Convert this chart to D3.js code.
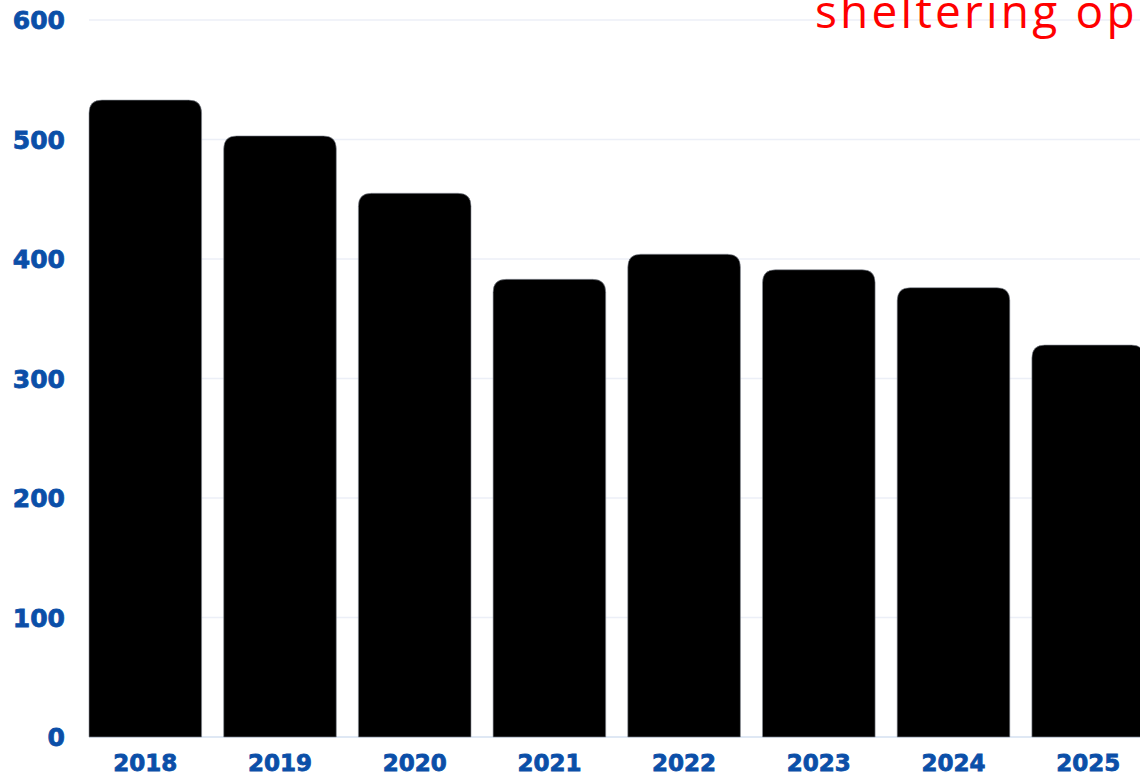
<!DOCTYPE html>
<html>
<head>
<meta charset="utf-8">
<script src="https://cdn.jsdelivr.net/npm/d3@7"></script>
<style>
  html, body { margin: 0; padding: 0; background: #fff; overflow: hidden; }
  svg { display: block; }
</style>
</head>
<body>
<svg width="1140" height="778"></svg>
<script>
const years = ["2018", "2019", "2020", "2021", "2022", "2023", "2024", "2025"];
const values = [533, 503, 455, 383, 404, 391, 376, 328];
const yTicks = [0, 100, 200, 300, 400, 500, 600];
const titleText = "sheltering op";

const svg = d3.select("svg");
const width = +svg.attr("width");

const y = d3.scaleLinear()
  .domain([0, 600])
  .range([737, 20]);

const x = d3.scaleBand()
  .domain(years)
  .range([89, 1144.5])
  .paddingInner(0.164)
  .paddingOuter(0);

// gridlines
svg.append("g")
  .selectAll("line")
  .data(yTicks.filter(d => d > 0))
  .join("line")
  .attr("x1", 89)
  .attr("x2", width)
  .attr("y1", d => y(d))
  .attr("y2", d => y(d))
  .attr("stroke", "#eceff7")
  .attr("stroke-width", 1.5);

svg.append("line")
  .attr("x1", 89).attr("x2", width)
  .attr("y1", y(0)).attr("y2", y(0))
  .attr("stroke", "#d5e0f1")
  .attr("stroke-width", 1.5);

// bars with rounded top corners
function barPath(x0, w, top, bottom, r) {
  return `M${x0},${bottom}V${top + r}Q${x0},${top} ${x0 + r},${top}` +
    `H${x0 + w - r}Q${x0 + w},${top} ${x0 + w},${top + r}V${bottom}Z`;
}

svg.append("g")
  .selectAll("path")
  .data(years.map((yr, i) => ({ yr, v: values[i] })))
  .join("path")
  .attr("d", d => barPath(x(d.yr), x.bandwidth(), y(d.v), y(0), 13))
  .attr("fill", "#000")
  .attr("stroke", "#8a8f99")
  .attr("stroke-width", 0.6);

// y axis labels
svg.append("g")
  .selectAll("text")
  .data(yTicks)
  .join("text")
  .attr("x", 65)
  .attr("y", d => y(d))
  .attr("dy", "0.36em")
  .attr("text-anchor", "end")
  .attr("font-family", "DejaVu Sans")
  .attr("font-weight", "bold")
  .attr("font-size", 25)
  .attr("fill", "#0b4fa8")
  .attr("stroke", "#0b4fa8")
  .attr("stroke-width", 0.8)
  .text(d => d);

// x axis labels
svg.append("g")
  .selectAll("text")
  .data(years)
  .join("text")
  .attr("x", d => x(d) + x.bandwidth() / 2)
  .attr("y", 771)
  .attr("text-anchor", "middle")
  .attr("font-family", "DejaVu Sans")
  .attr("font-weight", "bold")
  .attr("font-size", 23)
  .attr("fill", "#0b4fa8")
  .attr("stroke", "#0b4fa8")
  .attr("stroke-width", 0.8)
  .text(d => d);

// red title, cut off by the right edge as in the source
svg.append("text")
  .attr("x", 815)
  .attr("y", 28)
  .attr("font-family", "Open Sans")
  .attr("font-size", 46)
  .attr("letter-spacing", 3.2)
  .attr("fill", "#ff0000")
  .text(titleText);
</script>
</body>
</html>
